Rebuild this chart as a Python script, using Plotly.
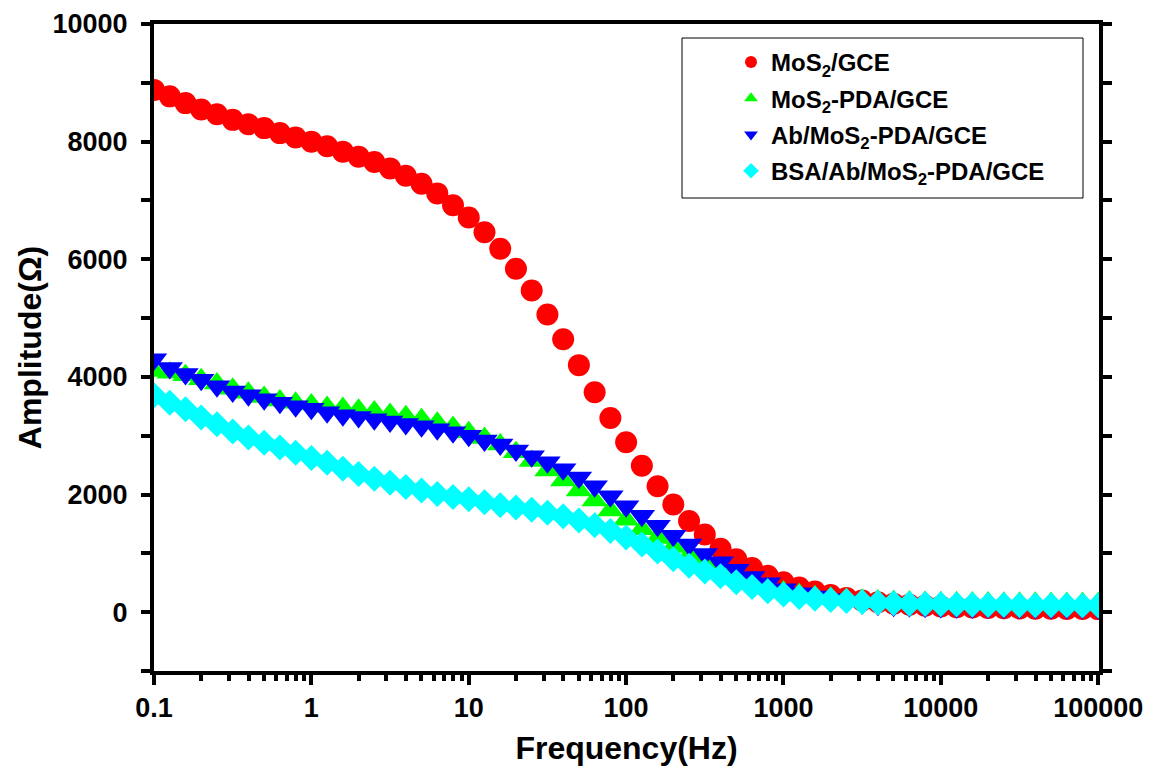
import plotly.graph_objects as go

# Frequency grid (Hz), 10 points per decade
freq = [0.1, 0.1259, 0.1585, 0.1995, 0.2512, 0.3162, 0.3981, 0.5012, 0.631, 0.7943,
        1, 1.259, 1.585, 1.995, 2.512, 3.162, 3.981, 5.012, 6.31, 7.943,
        10, 12.59, 15.85, 19.95, 25.12, 31.62, 39.81, 50.12, 63.1, 79.43,
        100, 125.9, 158.5, 199.5, 251.2, 316.2, 398.1, 501.2, 631, 794.3,
        1000, 1259, 1585, 1995, 2512, 3162, 3981, 5012, 6310, 7943,
        10000, 12589, 15849, 19953, 25119, 31623, 39811, 50119, 63096, 79433,
        100000]

# Amplitude (Ohm) of each electrode
mos2_gce = [8880, 8770, 8655, 8545, 8465, 8370, 8295, 8230, 8145, 8070,
            8000, 7920, 7830, 7745, 7655, 7545, 7420, 7285, 7120, 6920,
            6710, 6460, 6180, 5840, 5470, 5060, 4640, 4200, 3740, 3300,
            2890, 2490, 2140, 1830, 1550, 1320, 1080, 900, 750, 620,
            510, 420, 350, 290, 240, 200, 170, 145, 125, 110,
            95, 85, 78, 72, 67, 63, 60, 57, 55, 53,
            52]

mos2_pda = [4100, 4070, 4030, 3960, 3890, 3800, 3730, 3660, 3600, 3560,
            3530, 3490, 3470, 3440, 3410, 3370, 3330, 3280, 3220, 3150,
            3060, 2960, 2850, 2720, 2570, 2410, 2240, 2070, 1900, 1730,
            1570, 1410, 1260, 1110, 960, 830, 700, 590, 490, 410,
            350, 305, 270, 245, 225, 210, 198, 188, 180, 175,
            170, 167, 165, 163, 161, 160, 159, 158, 157, 156,
            155]

ab_mos2_pda = [4300, 4150, 4050, 3950, 3840, 3750, 3690, 3620, 3560, 3500,
               3460, 3400, 3350, 3320, 3280, 3240, 3200, 3160, 3110, 3060,
               3000, 2920, 2850, 2750, 2650, 2550, 2430, 2290, 2140, 1970,
               1800, 1640, 1470, 1300, 1150, 990, 850, 720, 600, 490,
               390, 320, 265, 220, 180, 150, 125, 110, 100, 92,
               87, 83, 80, 78, 76, 75, 74, 73, 72, 71,
               70]

bsa_ab_mos2_pda = [3690, 3560, 3450, 3310, 3195, 3070, 2970, 2880, 2800, 2710,
                   2620, 2540, 2440, 2350, 2270, 2200, 2130, 2070, 2010, 1960,
                   1920, 1870, 1820, 1780, 1740, 1690, 1630, 1560, 1480, 1380,
                   1270, 1150, 1030, 900, 790, 690, 610, 510, 430, 355,
                   300, 258, 228, 208, 190, 175, 162, 152, 145, 138,
                   133, 129, 126, 123, 121, 119, 118, 117, 116, 115,
                   115]

x_tickvals = [0.1, 1, 10, 100, 1000, 10000, 100000]
x_ticktext = ["0.1", "1", "10", "100", "1000", "10000", "100000"]

# Figure geometry (pixels); the page body adds an ~8px offset, so pull back a bit
W, H = 1151, 776
OFF_X, OFF_Y = 7, 8
PW, PH = 945, 647
L, T = 153 - OFF_X, 24 - OFF_Y
R, B = W - L - PW, H - T - PH

def px_x(p):
    # page pixel -> paper fraction
    return (p - 153) / PW

def px_y(p):
    return (671 - p) / PH

FONT = "Liberation Sans, Arial, sans-serif"

fig = go.Figure()

fig.add_trace(go.Scatter(x=freq, y=mos2_gce, mode="markers", name="MoS<sub>2</sub>/GCE",
                         legendgroup="a",
                         marker=dict(symbol="circle", size=22, color="#ff0000", line=dict(width=0))))
fig.add_trace(go.Scatter(x=freq, y=mos2_pda, mode="markers", name="MoS<sub>2</sub>-PDA/GCE",
                         legendgroup="b",
                         marker=dict(symbol="triangle-up", size=23, color="#00ff00", line=dict(width=0))))
fig.add_trace(go.Scatter(x=freq, y=ab_mos2_pda, mode="markers", name="Ab/MoS<sub>2</sub>-PDA/GCE",
                         legendgroup="c",
                         marker=dict(symbol="triangle-down", size=23, color="#0000ff", line=dict(width=0))))
fig.add_trace(go.Scatter(x=freq, y=bsa_ab_mos2_pda, mode="markers", name="BSA/Ab/MoS<sub>2</sub>-PDA/GCE",
                         legendgroup="d",
                         marker=dict(symbol="diamond", size=20, color="#00ffff", line=dict(width=0))))

# minor tick positions on the log axis
minor_x = [m * 10 ** e for e in range(-1, 5) for m in range(2, 10)]

fig.update_xaxes(type="log", range=[-1, 5.005], automargin=False,
                 tickvals=x_tickvals, ticktext=x_ticktext,
                 ticks="outside", ticklen=10, tickwidth=4, tickcolor="black",
                 showline=True, linewidth=4, linecolor="black", mirror=True,
                 showgrid=False, zeroline=False,
                 tickfont=dict(family=FONT, size=27, color="black", weight="bold"),
                 minor=dict(tickvals=minor_x, ticks="outside", ticklen=6, tickwidth=4,
                            tickcolor="black", showgrid=False),
                 title=dict(text="<b>Frequency(Hz)</b>", standoff=15,
                            font=dict(family=FONT, size=32, color="black")))

fig.update_yaxes(range=[-1000, 10000], dtick=2000, tick0=0, tickformat="d", automargin=False,
                 ticks="outside", ticklen=9, tickwidth=4, tickcolor="black",
                 showline=True, linewidth=4, linecolor="black", mirror="allticks",
                 showgrid=False, zeroline=False, ticklabelstandoff=8,
                 tickfont=dict(family=FONT, size=27, color="black", weight="bold"),
                 minor=dict(dtick=1000, tick0=-1000, ticks="outside", ticklen=9, tickwidth=4,
                            tickcolor="black", showgrid=False),
                 title=dict(text="<b>Amplitude(Ω)</b>", standoff=2,
                            font=dict(family=FONT, size=32, color="black")))

# legend frame drawn separately so its size matches the original box
fig.add_shape(type="rect", xref="paper", yref="paper",
              x0=px_x(681), x1=px_x(1082), y0=px_y(198), y1=px_y(38),
              line=dict(color="black", width=1), fillcolor="rgba(0,0,0,0)")

fig.update_layout(
    width=W, height=H,
    margin=dict(l=L, r=R, t=T, b=B),
    paper_bgcolor="white", plot_bgcolor="white",
    showlegend=True,
    legend=dict(x=px_x(730), y=px_y(40), xanchor="left", yanchor="top",
                bgcolor="rgba(0,0,0,0)", borderwidth=0,
                traceorder="grouped", tracegroupgap=2,
                font=dict(family=FONT, size=24, color="black", weight="bold"),
                itemsizing="constant"),
)

fig.write_html("out.html")
